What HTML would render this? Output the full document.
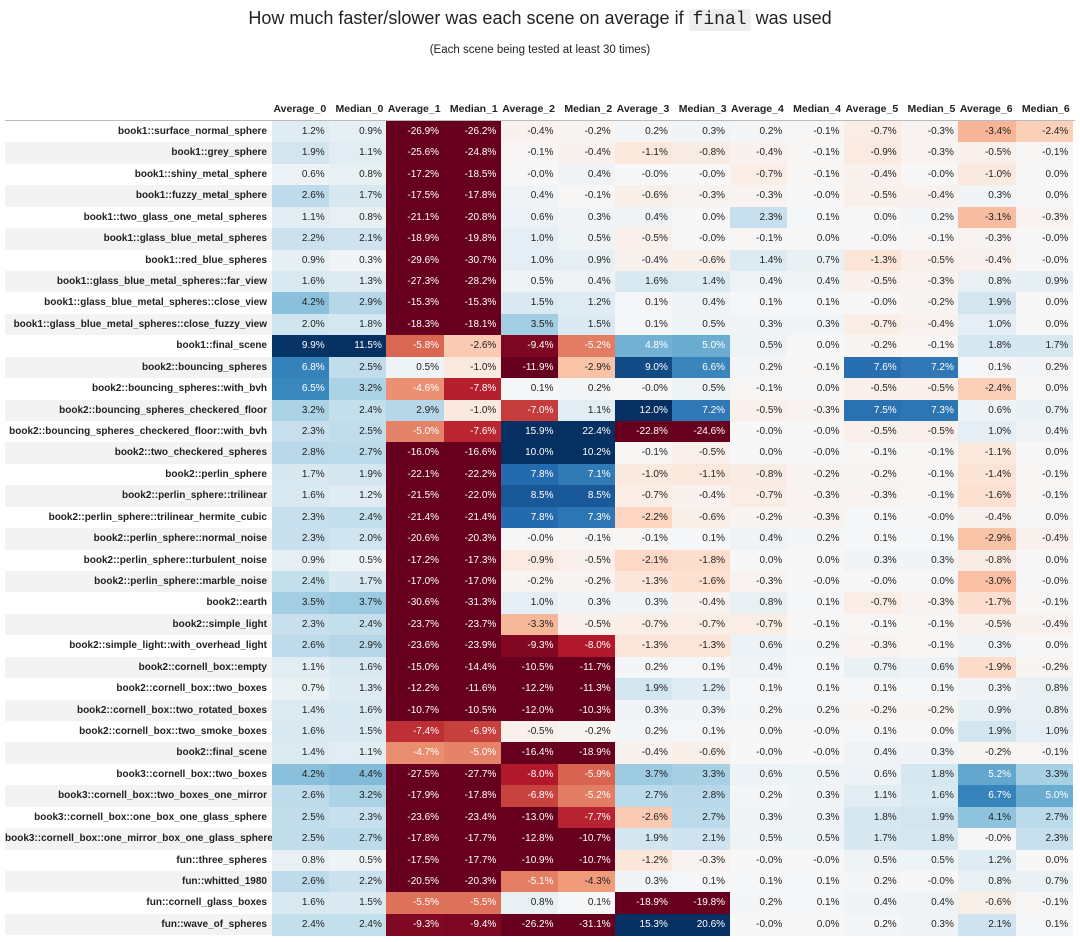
<!DOCTYPE html>
<html><head><meta charset="utf-8">
<style>
body{margin:0;width:1080px;height:942px;background:#fff;font-family:"Liberation Sans","DejaVu Sans",sans-serif;color:#222;overflow:hidden;position:relative}
.t{position:absolute;left:0;width:1080px;text-align:center}
.c{position:absolute;font-size:10px;text-align:right;box-sizing:border-box;padding-right:5px;white-space:nowrap}
.h{position:absolute;font-size:10.5px;font-weight:bold;text-align:right;box-sizing:border-box;padding-right:3px;white-space:nowrap}
.l{position:absolute;font-size:10px;font-weight:bold;text-align:right;box-sizing:border-box;padding-right:5px;white-space:nowrap}
code{font-family:"Liberation Mono","DejaVu Sans Mono",monospace;background:#eee;padding:1px 4px;border-radius:3px}
</style></head><body>
<div class="t" style="top:8px;font-size:18px">How much faster/slower was each scene on average if <code>final</code> was used</div>
<div class="t" style="top:44px;font-size:11.5px">(Each scene being tested at least 30 times)</div>
<div id="tbl"></div>
<script>
const columns=["Average_0","Median_0","Average_1","Median_1","Average_2","Median_2","Average_3","Median_3","Average_4","Median_4","Average_5","Median_5","Average_6","Median_6"];
const scenes=["book1::surface_normal_sphere","book1::grey_sphere","book1::shiny_metal_sphere","book1::fuzzy_metal_sphere","book1::two_glass_one_metal_spheres","book1::glass_blue_metal_spheres","book1::red_blue_spheres","book1::glass_blue_metal_spheres::far_view","book1::glass_blue_metal_spheres::close_view","book1::glass_blue_metal_spheres::close_fuzzy_view","book1::final_scene","book2::bouncing_spheres","book2::bouncing_spheres::with_bvh","book2::bouncing_spheres_checkered_floor","book2::bouncing_spheres_checkered_floor::with_bvh","book2::two_checkered_spheres","book2::perlin_sphere","book2::perlin_sphere::trilinear","book2::perlin_sphere::trilinear_hermite_cubic","book2::perlin_sphere::normal_noise","book2::perlin_sphere::turbulent_noise","book2::perlin_sphere::marble_noise","book2::earth","book2::simple_light","book2::simple_light::with_overhead_light","book2::cornell_box::empty","book2::cornell_box::two_boxes","book2::cornell_box::two_rotated_boxes","book2::cornell_box::two_smoke_boxes","book2::final_scene","book3::cornell_box::two_boxes","book3::cornell_box::two_boxes_one_mirror","book3::cornell_box::one_box_one_glass_sphere","book3::cornell_box::one_mirror_box_one_glass_sphere","fun::three_spheres","fun::whitted_1980","fun::cornell_glass_boxes","fun::wave_of_spheres"];
const values=[
[1.2,0.9,-26.9,-26.2,-0.4,-0.2,0.2,0.3,0.2,-0.1,-0.7,-0.3,-3.4,-2.4],
[1.9,1.1,-25.6,-24.8,-0.1,-0.4,-1.1,-0.8,-0.4,-0.1,-0.9,-0.3,-0.5,-0.1],
[0.6,0.8,-17.2,-18.5,-0.0,0.4,-0.0,-0.0,-0.7,-0.1,-0.4,-0.0,-1.0,0.0],
[2.6,1.7,-17.5,-17.8,0.4,-0.1,-0.6,-0.3,-0.3,-0.0,-0.5,-0.4,0.3,0.0],
[1.1,0.8,-21.1,-20.8,0.6,0.3,0.4,0.0,2.3,0.1,0.0,0.2,-3.1,-0.3],
[2.2,2.1,-18.9,-19.8,1.0,0.5,-0.5,-0.0,-0.1,0.0,-0.0,-0.1,-0.3,-0.0],
[0.9,0.3,-29.6,-30.7,1.0,0.9,-0.4,-0.6,1.4,0.7,-1.3,-0.5,-0.4,-0.0],
[1.6,1.3,-27.3,-28.2,0.5,0.4,1.6,1.4,0.4,0.4,-0.5,-0.3,0.8,0.9],
[4.2,2.9,-15.3,-15.3,1.5,1.2,0.1,0.4,0.1,0.1,-0.0,-0.2,1.9,0.0],
[2.0,1.8,-18.3,-18.1,3.5,1.5,0.1,0.5,0.3,0.3,-0.7,-0.4,1.0,0.0],
[9.9,11.5,-5.8,-2.6,-9.4,-5.2,4.8,5.0,0.5,0.0,-0.2,-0.1,1.8,1.7],
[6.8,2.5,0.5,-1.0,-11.9,-2.9,9.0,6.6,0.2,-0.1,7.6,7.2,0.1,0.2],
[6.5,3.2,-4.6,-7.8,0.1,0.2,-0.0,0.5,-0.1,0.0,-0.5,-0.5,-2.4,0.0],
[3.2,2.4,2.9,-1.0,-7.0,1.1,12.0,7.2,-0.5,-0.3,7.5,7.3,0.6,0.7],
[2.3,2.5,-5.0,-7.6,15.9,22.4,-22.8,-24.6,-0.0,-0.0,-0.5,-0.5,1.0,0.4],
[2.8,2.7,-16.0,-16.6,10.0,10.2,-0.1,-0.5,0.0,-0.0,-0.1,-0.1,-1.1,0.0],
[1.7,1.9,-22.1,-22.2,7.8,7.1,-1.0,-1.1,-0.8,-0.2,-0.2,-0.1,-1.4,-0.1],
[1.6,1.2,-21.5,-22.0,8.5,8.5,-0.7,-0.4,-0.7,-0.3,-0.3,-0.1,-1.6,-0.1],
[2.3,2.4,-21.4,-21.4,7.8,7.3,-2.2,-0.6,-0.2,-0.3,0.1,-0.0,-0.4,0.0],
[2.3,2.0,-20.6,-20.3,-0.0,-0.1,-0.1,0.1,0.4,0.2,0.1,0.1,-2.9,-0.4],
[0.9,0.5,-17.2,-17.3,-0.9,-0.5,-2.1,-1.8,0.0,0.0,0.3,0.3,-0.8,0.0],
[2.4,1.7,-17.0,-17.0,-0.2,-0.2,-1.3,-1.6,-0.3,-0.0,-0.0,0.0,-3.0,-0.0],
[3.5,3.7,-30.6,-31.3,1.0,0.3,0.3,-0.4,0.8,0.1,-0.7,-0.3,-1.7,-0.1],
[2.3,2.4,-23.7,-23.7,-3.3,-0.5,-0.7,-0.7,-0.7,-0.1,-0.1,-0.1,-0.5,-0.4],
[2.6,2.9,-23.6,-23.9,-9.3,-8.0,-1.3,-1.3,0.6,0.2,-0.3,-0.1,0.3,0.0],
[1.1,1.6,-15.0,-14.4,-10.5,-11.7,0.2,0.1,0.4,0.1,0.7,0.6,-1.9,-0.2],
[0.7,1.3,-12.2,-11.6,-12.2,-11.3,1.9,1.2,0.1,0.1,0.1,0.1,0.3,0.8],
[1.4,1.6,-10.7,-10.5,-12.0,-10.3,0.3,0.3,0.2,0.2,-0.2,-0.2,0.9,0.8],
[1.6,1.5,-7.4,-6.9,-0.5,-0.2,0.2,0.1,0.0,-0.0,0.1,0.0,1.9,1.0],
[1.4,1.1,-4.7,-5.0,-16.4,-18.9,-0.4,-0.6,-0.0,-0.0,0.4,0.3,-0.2,-0.1],
[4.2,4.4,-27.5,-27.7,-8.0,-5.9,3.7,3.3,0.6,0.5,0.6,1.8,5.2,3.3],
[2.6,3.2,-17.9,-17.8,-6.8,-5.2,2.7,2.8,0.2,0.3,1.1,1.6,6.7,5.0],
[2.5,2.3,-23.6,-23.4,-13.0,-7.7,-2.6,2.7,0.3,0.3,1.8,1.9,4.1,2.7],
[2.5,2.7,-17.8,-17.7,-12.8,-10.7,1.9,2.1,0.5,0.5,1.7,1.8,-0.0,2.3],
[0.8,0.5,-17.5,-17.7,-10.9,-10.7,-1.2,-0.3,-0.0,-0.0,0.5,0.5,1.2,0.0],
[2.6,2.2,-20.5,-20.3,-5.1,-4.3,0.3,0.1,0.1,0.1,0.2,-0.0,0.8,0.7],
[1.6,1.5,-5.5,-5.5,0.8,0.1,-18.9,-19.8,0.2,0.1,0.4,0.4,-0.6,-0.1],
[2.4,2.4,-9.3,-9.4,-26.2,-31.1,15.3,20.6,-0.0,0.0,0.2,0.3,2.1,0.1]];
const vmin=-10,vmax=10;
const stops=["#67001f","#b2182b","#d6604d","#f4a582","#fddbc7","#f7f7f7","#d1e5f0","#92c5de","#4393c3","#2166ac","#053061"];
function hex(h){return [1,3,5].map(i=>parseInt(h.substr(i,2),16));}
function color(v){let t=(v-vmin)/(vmax-vmin);t=Math.max(0,Math.min(1,t));const p=t*(stops.length-1);const i=Math.min(stops.length-2,Math.floor(p));const f=p-i;const a=hex(stops[i]),b=hex(stops[i+1]);return "rgb("+a.map((x,k)=>Math.round(x+(b[k]-x)*f)).join(",")+")";}
function fmt(v){return (v<0||Object.is(v,-0)?'-':'')+Math.abs(v).toFixed(1)+'%';}
const x0=272,cw=57.2,y0=121,rh=21.43,labelLeft=5;
const colX=j=>x0+j*cw, rowY=i=>y0+i*rh;
const tbl=document.getElementById('tbl');
columns.forEach((c,j)=>{const d=document.createElement('div');d.className='h';


d.style.left=colX(j)+'px';d.style.width=cw+'px';d.style.top='103px';d.textContent=c;tbl.appendChild(d);});
const line=document.createElement('div');


line.style.cssText='position:absolute;left:5px;width:1070px;top:120px;height:1px;background:#bbb';tbl.appendChild(line);
scenes.forEach((s,i)=>{const y=rowY(i);
const l=document.createElement('div');l.className='l';


l.style.cssText+=`left:${labelLeft}px;width:${x0-labelLeft}px;top:${y}px;height:${rh}px;line-height:${rh}px;background:${i%2?'#f3f3f3':'#fff'}`;
l.textContent=s;tbl.appendChild(l);
values[i].forEach((v,j)=>{const d=document.createElement('div');d.className='c';


d.style.cssText+=`left:${colX(j)}px;width:${cw+0.5}px;top:${y}px;height:${rh+0.5}px;line-height:${rh}px;background:${color(v)};color:${Math.abs(v)>=4.5?'#fff':'#222'}`;
d.textContent=fmt(v);tbl.appendChild(d);});
});
</script>
</body></html>
